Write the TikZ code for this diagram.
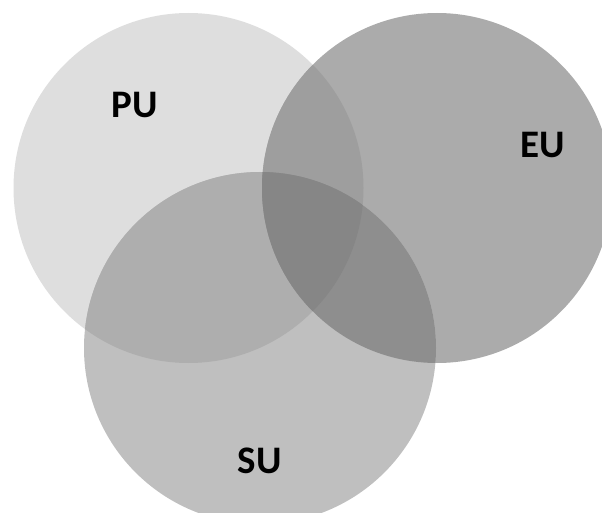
\documentclass[tikz,border=0pt]{standalone}
\usepackage{fontspec}
\setmainfont{Carlito}
\usetikzlibrary{positioning}

\definecolor{puonly}{RGB}{222,222,222}
\definecolor{euonly}{RGB}{171,171,171}
\definecolor{suonly}{RGB}{191,191,191}
\definecolor{pusu}{RGB}{174,174,174}
\definecolor{pueu}{RGB}{158,158,158}
\definecolor{eusu}{RGB}{142,142,142}
\definecolor{allthree}{RGB}{134,134,134}

\begin{document}
\begin{tikzpicture}[x=1pt,y=-1pt,
    setlabel/.style={font=\bfseries\fontsize{39}{40}\selectfont,inner sep=0pt}]

      \useasboundingbox (0,0) rectangle (602,513);
      \clip (0,0) rectangle (602,513);

      \coordinate (pu) at (188.5,188);
      \coordinate (eu) at (437,188);
      \coordinate (su) at (260,348);

      % single sets
      \fill[puonly] (pu) circle(175pt);
      \fill[euonly] (eu) circle(175pt);
      \fill[suonly] (su) circle(176pt);

      % pairwise overlaps
      \begin{scope}
        \clip (pu) circle(175pt);
        \fill[pusu] (su) circle(176pt);
        \fill[pueu] (eu) circle(175pt);
      \end{scope}
      \begin{scope}
        \clip (eu) circle(175pt);
        \fill[eusu] (su) circle(176pt);
      \end{scope}

      % all three
      \begin{scope}
        \clip (pu) circle(175pt);
        \clip (eu) circle(175pt);
        \fill[allthree] (su) circle(176pt);
      \end{scope}

      \node[setlabel] (pulabel) at (135,105) {PU};
      \node[setlabel] (eulabel) at (543,145) {EU};
      \node[setlabel] (sulabel) at (259.5,461) {SU};

    \end{tikzpicture}
\end{document}
